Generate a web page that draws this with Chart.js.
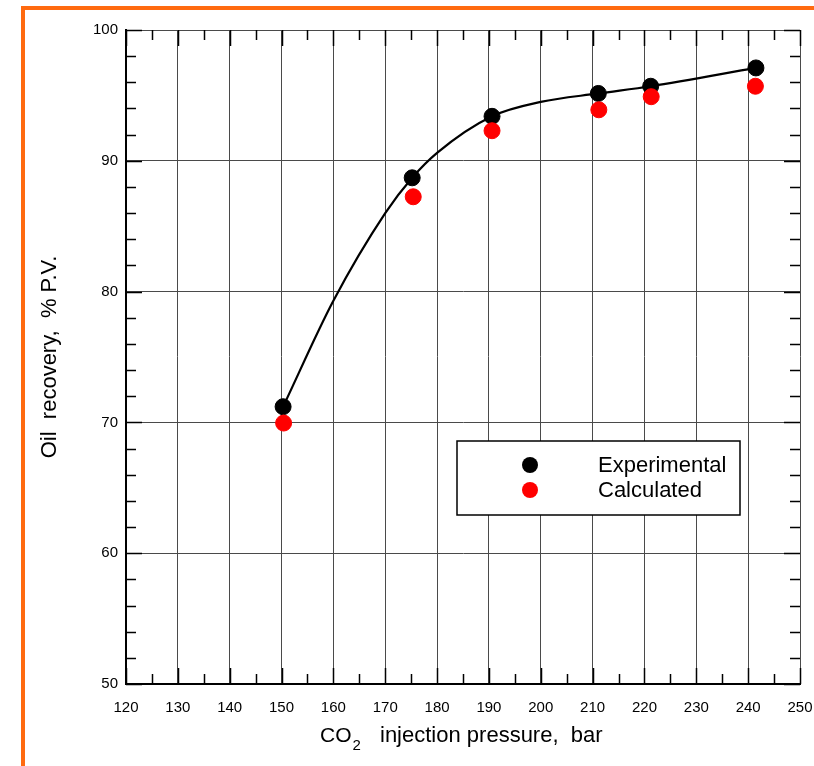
<!DOCTYPE html>
<html>
<head>
<meta charset="utf-8">
<title>Oil recovery vs CO2 injection pressure</title>
<script src="https://cdn.jsdelivr.net/npm/chart.js@4.4.0/dist/chart.umd.min.js"></script>
<style>
    html, body { margin: 0; padding: 0; background: #fff; overflow: hidden; }
    #wrap { position: relative; width: 814px; height: 766px; }
    #frame {
        position: absolute; left: 21px; top: 6px; width: 820px; height: 800px;
        border-left: 4px solid #ff6a10; border-top: 4px solid #ff6a10;
        pointer-events: none;
    }
    canvas { position: absolute; left: 0; top: 0; }
</style>
</head>
<body>
<div id="wrap">
    <canvas id="recoveryChart" width="814" height="766"></canvas>
    <div id="frame"></div>
</div>
<script>
// Measured points
const pressureExp = [150.3, 175.2, 190.6, 211.1, 221.2, 241.5];
const recoveryExp = [71.2, 88.7, 93.4, 95.15, 95.7, 97.1];
const pressureCalc = [150.4, 175.4, 190.6, 211.2, 221.3, 241.4];
const recoveryCalc = [69.95, 87.25, 92.3, 93.9, 94.9, 95.7];

// Smoothed trend through the experimental data
const curvePressure = [150.3, 160, 170, 175.2, 180, 190.6, 200, 211.1, 221.2, 241.5];
const curveRecovery = [71.2, 79.3, 86.0, 88.7, 90.6, 93.4, 94.5, 95.15, 95.7, 97.1];

// Axis ranges and tick spacing
const xMin = 120, xMax = 250, xMajor = 10, xMinor = 5;
const yMin = 50, yMax = 100, yMajor = 10, yMinor = 2;

const legendItems = ['Experimental', 'Calculated'];
const legendColors = ['#000000', '#ff0000'];

const FONT = "'Liberation Sans', Arial, sans-serif";

function toPoints(xs, ys) {
    return xs.map((x, i) => ({ x: x, y: ys[i] }));
}

// Inward ticks on all four sides, legend box and axis titles
const decorations = {
    id: 'decorations',
    afterDatasetsDraw(chart) {
        const ctx = chart.ctx;
        const area = chart.chartArea;
        const xs = chart.scales.x;
        const ys = chart.scales.y;

        ctx.save();
        ctx.strokeStyle = '#000';
        ctx.lineWidth = 1.5;
        ctx.beginPath();
        for (let v = xMin; v <= xMax; v += xMinor) {
            const px = Math.round(xs.getPixelForValue(v)) + 0.5;
            const len = (v % xMajor === 0) ? 16 : 10;
            ctx.moveTo(px, area.bottom); ctx.lineTo(px, area.bottom - len);
            ctx.moveTo(px, area.top); ctx.lineTo(px, area.top + len);
        }
        for (let v = yMin; v <= yMax; v += yMinor) {
            const py = Math.round(ys.getPixelForValue(v)) + 0.5;
            const len = (v % yMajor === 0) ? 16 : 10;
            ctx.moveTo(area.left, py); ctx.lineTo(area.left + len, py);
            ctx.moveTo(area.right, py); ctx.lineTo(area.right - len, py);
        }
        ctx.stroke();

        // legend
        const bx = 457, by = 441, bw = 283, bh = 74;
        ctx.fillStyle = '#fff';
        ctx.fillRect(bx, by, bw, bh);
        ctx.lineWidth = 1.5;
        ctx.strokeRect(bx, by, bw, bh);
        ctx.font = '22px ' + FONT;
        ctx.textBaseline = 'middle';
        ctx.textAlign = 'left';
        legendItems.forEach((label, i) => {
            const cy = 465 + i * 25;
            ctx.fillStyle = legendColors[i];
            ctx.beginPath();
            ctx.arc(530, cy, 8, 0, Math.PI * 2);
            ctx.fill();
            ctx.fillStyle = '#000';
            ctx.fillText(label, 598, cy + 1);
        });

        // x axis title with subscript
        ctx.textBaseline = 'alphabetic';
        ctx.font = '21px ' + FONT;
        ctx.fillText('CO', 320, 742);
        const coW = ctx.measureText('CO').width;
        ctx.font = '15px ' + FONT;
        ctx.fillText('2', 320 + coW + 1, 750);
        ctx.font = '22px ' + FONT;
        ctx.fillText('injection pressure,  bar', 380, 742);

        // y axis title
        ctx.translate(50, 357);
        ctx.rotate(-Math.PI / 2);
        ctx.textAlign = 'center';
        ctx.textBaseline = 'middle';
        ctx.fillText('Oil  recovery,  % P.V.', 0, 0);
        ctx.restore();
    }
};

new Chart(document.getElementById('recoveryChart'), {
    type: 'scatter',
    data: {
        datasets: [
            {
                label: 'Calculated',
                data: toPoints(pressureCalc, recoveryCalc),
                backgroundColor: '#ff0000',
                borderColor: '#ff0000',
                pointRadius: 8,
                pointHoverRadius: 8,
                order: 0
            },
            {
                label: 'Experimental',
                data: toPoints(pressureExp, recoveryExp),
                backgroundColor: '#000000',
                borderColor: '#000000',
                pointRadius: 8,
                pointHoverRadius: 8,
                order: 1
            },
            {
                label: 'Trend',
                type: 'line',
                data: toPoints(curvePressure, curveRecovery),
                borderColor: '#000000',
                borderWidth: 2.2,
                pointRadius: 0,
                fill: false,
                cubicInterpolationMode: 'monotone',
                order: 2
            }
        ]
    },
    options: {
        responsive: false,
        animation: false,
        events: [],
        layout: { padding: { top: 30, right: 14, left: 0, bottom: 0 } },
        plugins: {
            legend: { display: false },
            tooltip: { enabled: false }
        },
        scales: {
            x: {
                type: 'linear',
                min: xMin,
                max: xMax,
                afterFit: (scale) => {
                    scale.height = 82;
                    scale.paddingLeft = 0;
                    scale.paddingRight = 0;
                },
                ticks: {
                    stepSize: xMajor,
                    color: '#000',
                    padding: 15,
                    maxRotation: 0,
                    font: { family: FONT, size: 15 }
                },
                grid: { color: '#4a4a4a', lineWidth: 1, drawTicks: false },
                border: { color: '#000', width: 2 }
            },
            y: {
                type: 'linear',
                min: yMin,
                max: yMax,
                afterFit: (scale) => { scale.width = 126; },
                ticks: {
                    stepSize: yMajor,
                    color: '#000',
                    padding: 8,
                    font: { family: FONT, size: 15 }
                },
                grid: { color: '#4a4a4a', lineWidth: 1, drawTicks: false },
                border: { color: '#000', width: 2 }
            }
        }
    },
    plugins: [decorations]
});
</script>
</body>
</html>
